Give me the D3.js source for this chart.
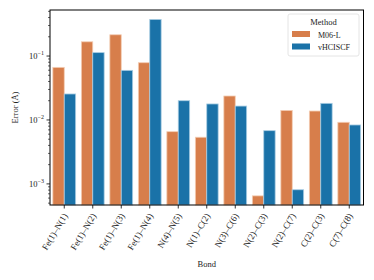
<!DOCTYPE html>
<html>
<head>
<meta charset="utf-8">
<script src="https://cdn.jsdelivr.net/npm/d3@7"></script>
<style>
  body { margin: 0; background: #fff; }
  text { font-family: "Liberation Serif", "DejaVu Serif", serif; fill: #222; }
</style>
</head>
<body>
<script>
'use strict';

const bonds = ["Fe(1)\u2013N(1)", "Fe(1)\u2013N(2)", "Fe(1)\u2013N(3)", "Fe(1)\u2013N(4)", "N(4)\u2013N(5)",
  "N(1)\u2013C(2)", "N(3)\u2013C(6)", "N(2)\u2013C(3)", "N(2)\u2013C(7)", "C(2)\u2013C(3)", "C(7)\u2013C(8)"]
const methods = ["M06-L", "vHCISCF"]
const m06 = [0.0665, 0.167, 0.215, 0.0786, 0.00656, 0.00537, 0.0237, 0.00065, 0.0141, 0.0138, 0.0092]
const vhci = [0.0255, 0.113, 0.0597, 0.374, 0.0200, 0.0178, 0.0165, 0.0068, 0.00081, 0.0182, 0.00835]
const yTicks = [-3, -2, -1]

const colors = {"M06-L": "#d77e4b", "vHCISCF": "#1a72a8"}
const edges = {"M06-L": "#f3cdb4", "vHCISCF": "#a9cde3"}

const m = { width: 374, height: 280, left: 50, right: 363.5, top: 10, bottom: 205 }

const svg = d3.select('body')
  .append('svg')
  .attr('width', m.width)
  .attr('height', m.height)

const xScale = d3.scaleBand()
  .domain(bonds)
  .range([m.left, m.right])

const xInner = d3.scaleBand()
  .domain(methods)
  .range([0, xScale.bandwidth() * 0.8])

const yScale = d3.scaleLog()
  .domain([Math.pow(10, -3.33), Math.pow(10, -0.28)])
  .range([m.bottom, m.top])

// bars
const rows = bonds.map((b, i) => ({ bond: b, vals: [
  { method: "M06-L", v: m06[i] },
  { method: "vHCISCF", v: vhci[i] }
]}))

const groups = svg.selectAll('g.grp')
  .data(rows)
  .enter().append('g')
  .attr('class', 'grp')
  .attr('transform', (d) => 'translate(' + (xScale(d.bond) + xScale.bandwidth() * 0.1) + ',0)')

groups.selectAll('rect')
  .data((d) => d.vals)
  .enter().append('rect')
  .attr('x', (d) => xInner(d.method))
  .attr('width', xInner.bandwidth())
  .attr('y', (d) => yScale(d.v))
  .attr('height', (d) => m.bottom - yScale(d.v))
  .style('fill', (d) => colors[d.method])
  .style('stroke', (d) => edges[d.method])
  .style('stroke-width', 0.8)

// y axis: major + minor ticks
const minors = []
for (let e = -4; e <= 0; e++) {
  for (let k = 2; k <= 9; k++) {
    const v = k * Math.pow(10, e)
    if (v >= yScale.domain()[0] && v <= yScale.domain()[1]) minors.push(v)
  }
}
const yAxisG = svg.append('g')
  .attr('transform', 'translate(' + m.left + ',0)')
yAxisG.selectAll('line.minor')
  .data(minors)
  .enter().append('line')
  .attr('x1', -2).attr('x2', 0)
  .attr('y1', (d) => yScale(d)).attr('y2', (d) => yScale(d))
  .style('stroke', '#000').style('stroke-width', 0.6)
yAxisG.selectAll('line.major')
  .data(yTicks)
  .enter().append('line')
  .attr('x1', -3.5).attr('x2', 0)
  .attr('y1', (d) => yScale(Math.pow(10, d))).attr('y2', (d) => yScale(Math.pow(10, d)))
  .style('stroke', '#000').style('stroke-width', 0.8)
const yLab = yAxisG.selectAll('text.tick')
  .data(yTicks)
  .enter().append('text')
  .attr('x', -6)
  .attr('y', (d) => yScale(Math.pow(10, d)) + 3)
  .attr('text-anchor', 'end')
  .style('font-size', '8.5px')
yLab.append('tspan').text('10')
yLab.append('tspan').attr('dy', -4).style('font-size', '6px').text((d) => '\u2212' + (-d))

// x axis
const xAxisG = svg.append('g')
  .attr('transform', 'translate(0,' + m.bottom + ')')
xAxisG.selectAll('line')
  .data(bonds)
  .enter().append('line')
  .attr('x1', (d) => xScale(d) + xScale.bandwidth() / 2)
  .attr('x2', (d) => xScale(d) + xScale.bandwidth() / 2)
  .attr('y1', 0).attr('y2', 3.5)
  .style('stroke', '#000').style('stroke-width', 0.8)
xAxisG.selectAll('text')
  .data(bonds)
  .enter().append('text')
  .attr('transform', (d) => 'translate(' + (xScale(d) + xScale.bandwidth() / 2 + 1) + ',9)rotate(-59)')
  .attr('text-anchor', 'end')
  .attr('dy', '0.35em')
  .style('font-size', '9px')
  .text((d) => d)

// frame
svg.append('rect')
  .attr('x', m.left).attr('y', m.top)
  .attr('width', m.right - m.left).attr('height', m.bottom - m.top)
  .style('fill', 'none').style('stroke', '#000').style('stroke-width', 1)

// labels
svg.append('text')
  .attr('x', (m.left + m.right) / 2)
  .attr('y', 267)
  .attr('text-anchor', 'middle')
  .style('font-size', '8.5px')
  .text('Bond')

svg.append('text')
  .attr('transform', 'translate(18,' + ((m.top + m.bottom) / 2) + ')rotate(-90)')
  .attr('text-anchor', 'middle')
  .style('font-size', '8.5px')
  .text('Error (\u00c5)')

// legend
const leg = svg.append('g').attr('transform', 'translate(288,14)')
leg.append('rect')
  .attr('width', 71).attr('height', 42).attr('rx', 2)
  .style('fill', '#fff').style('fill-opacity', 0.8)
  .style('stroke', '#ddd').style('stroke-width', 0.8)
leg.append('text')
  .attr('x', 35.5).attr('y', 11)
  .attr('text-anchor', 'middle')
  .style('font-size', '8.5px')
  .text('Method')
methods.forEach((name, i) => {
  leg.append('rect')
    .attr('x', 4).attr('y', 17 + i * 12.5)
    .attr('width', 18).attr('height', 6)
    .style('fill', colors[name])
  leg.append('text')
    .attr('x', 30).attr('y', 23.5 + i * 12.5)
    .style('font-size', '8px')
    .text(name)
})
</script>
</body>
</html>
